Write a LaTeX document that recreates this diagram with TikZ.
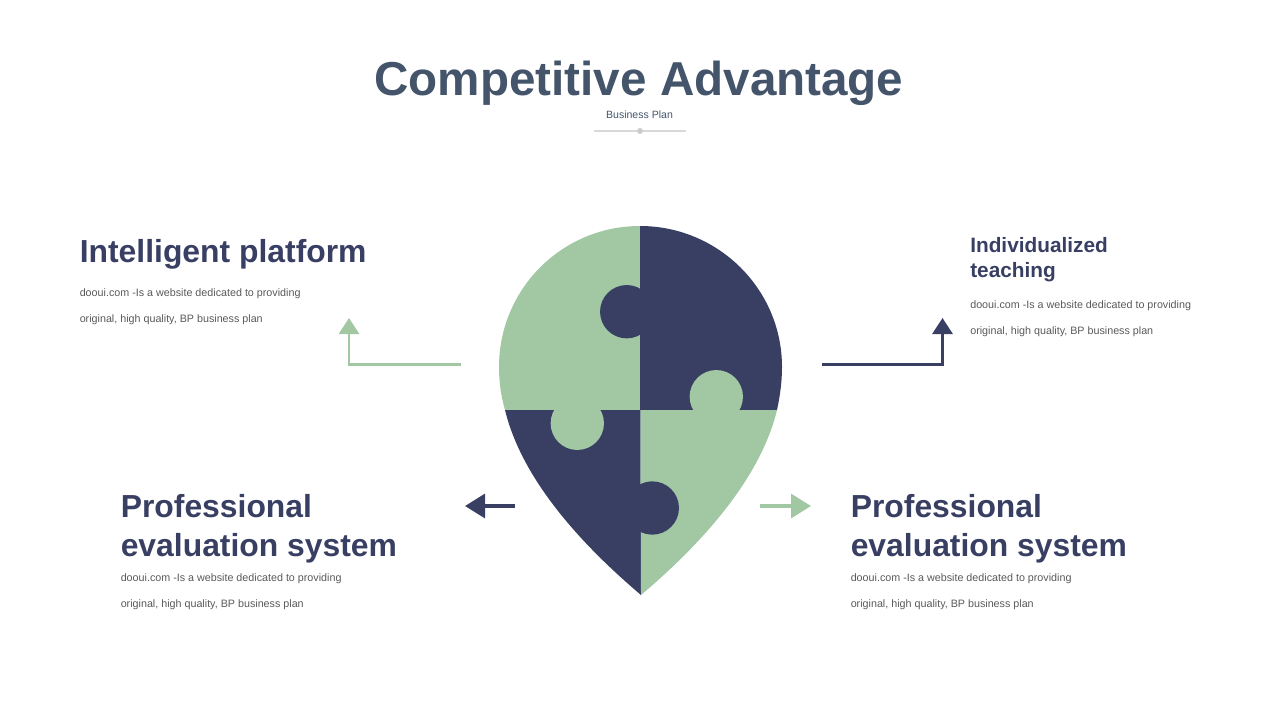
\documentclass[tikz,border=0pt]{standalone}
\usepackage{fontspec}
\setmainfont{Liberation Sans}
\usetikzlibrary{arrows.meta,positioning}
\definecolor{navy}{HTML}{383F63}
\definecolor{sage}{HTML}{A2C7A3}
\definecolor{slate}{HTML}{44546A}
\definecolor{bodygray}{HTML}{595959}
\tikzstyle{title}=[anchor=base,inner sep=0pt,text=slate,font={\bfseries\fontsize{35.7}{40}\selectfont}]
\tikzstyle{subtitle}=[anchor=base,inner sep=0pt,text=slate,font={\fontsize{7.9}{10}\selectfont}]
\tikzstyle{head}=[anchor=base west,inner sep=0pt,align=left,text=navy,font={\bfseries\fontsize{23.9}{29.25}\selectfont}]
\tikzstyle{smallhead}=[head,font={\bfseries\fontsize{15.6}{18.75}\selectfont}]
\tikzstyle{body}=[anchor=base west,inner sep=0pt,align=left,text=bodygray,font={\fontsize{8.05}{19.5}\selectfont}]
\tikzstyle{tab}=[circle,inner sep=0pt,minimum size=40pt]
\tikzstyle{link}=[line width=2.2pt,-{Triangle[length=12pt,width=15pt]}]
\tikzstyle{shortlink}=[line width=2.4pt,-{Triangle[length=15pt,width=18pt]}]

\begin{document}
\begin{tikzpicture}[x=.75pt,y=-.75pt]
  \useasboundingbox (0,0) rectangle (1280,720);

  \node[title] (main) at (639,96) {Competitive Advantage};
  \node[subtitle] (sub) at (639.5,119) {Business Plan};
  \coordinate (ruleL) at (594,131);
  \coordinate (ruleR) at (686,131);
  \draw[line width=1.2pt,black!15] (ruleL) -- (ruleR);
  \node[circle,fill=black!20,inner sep=0pt,minimum size=4.5pt] (dot) at (640,131) {};

  % pin, four pieces
  \fill[sage] (640,226) .. controls (562,226) and (499,289) .. (499,367)
    .. controls (499,382) and (501,396) .. (505,410) -- (640,410) -- cycle;
  \fill[navy] (640,226) .. controls (718,226) and (782,289) .. (782,367)
    .. controls (782,382) and (780,396) .. (777,410) -- (640,410) -- cycle;
  \fill[navy] (505,410) .. controls (522,480) and (582,545) .. (641,595) -- (640.5,410) -- cycle;
  \fill[sage] (777,410) .. controls (760,480) and (700,545) .. (641,595) -- (640.5,410) -- cycle;

  \node[tab,fill=navy] (tabA) at (626.7,311.7) {};
  \node[tab,fill=sage] (tabB) at (716.3,396.7) {};
  \node[tab,fill=sage] (tabC) at (577.3,423.3) {};
  \node[tab,fill=navy] (tabD) at (652.3,508) {};

  % arrows
  \coordinate (a1) at (461,364.5);
  \coordinate (a2) at (349,318);
  \coordinate (b1) at (822,364.5);
  \coordinate (b2) at (942.5,318);
  \coordinate (c1) at (515,506);
  \coordinate (c2) at (465,506);
  \coordinate (d1) at (760,506);
  \coordinate (d2) at (811,506);
  \draw[link,sage] (a1) -| (a2);
  \draw[link,navy] (b1) -| (b2);
  \draw[shortlink,navy] (c1) -- (c2);
  \draw[shortlink,sage] (d1) -- (d2);

  % texts
  \node[head] (hA) at (79.5,262.5) {Intelligent platform};
  \node[body] (tA) at (79.5,322) {dooui.com -Is a website dedicated to providing\\original, high quality, BP business plan};
  \node[smallhead] (hB) at (970,277) {Individualized\\teaching};
  \node[body] (tB) at (970,334) {dooui.com -Is a website dedicated to providing\\original, high quality, BP business plan};
  \node[head] (hC) at (120.5,556) {Professional\\evaluation system};
  \node[body] (tC) at (120.5,607) {dooui.com -Is a website dedicated to providing\\original, high quality, BP business plan};
  \node[head] (hD) at (850.5,556) {Professional\\evaluation system};
  \node[body] (tD) at (850.5,607) {dooui.com -Is a website dedicated to providing\\original, high quality, BP business plan};
\end{tikzpicture}
\end{document}
